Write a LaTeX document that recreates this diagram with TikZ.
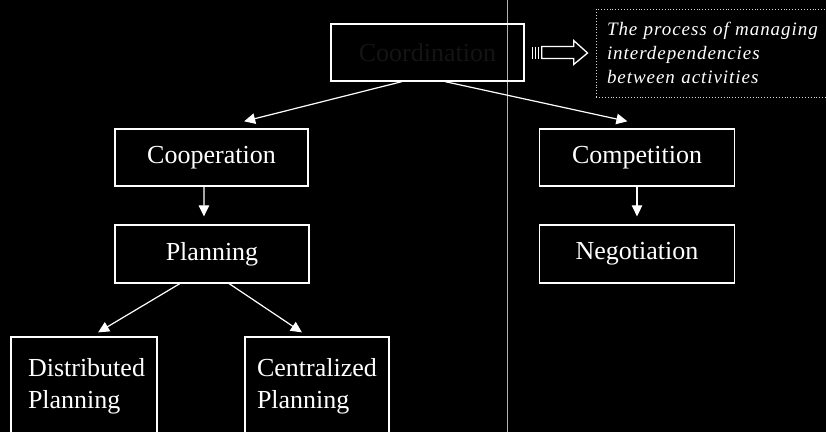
\documentclass[tikz,border=0pt]{standalone}
\usepackage{fontspec}
\setmainfont{Liberation Serif}
\usetikzlibrary{arrows.meta,calc}

\tikzset{
  box/.style={draw=white, line width=1.3pt, inner sep=0pt, text=white,
    font=\fontsize{26}{32}\selectfont},
  conn/.style={draw=white, line width=1.2pt, -{Triangle[width=10.5pt,length=11pt]}},
  note/.style={draw=white!85!black, dotted, line width=0.9pt, inner sep=0pt,
    text=white, align=left,
    font=\addfontfeatures{LetterSpace=5}\fontsize{19}{24}\selectfont\itshape},
}

\begin{document}
\begin{tikzpicture}[x=1pt,y=-1pt]
  % canvas
  \useasboundingbox (0,0) rectangle (826,432);
  \clip (0,0) rectangle (826,432);
  \fill[black] (0,0) rectangle (826,432);

  % thin vertical rule
  \draw[white!70!black, line width=0.8pt] (507,0) -- (507,432);

  % boxes
  \node[box, minimum width=193pt, minimum height=57pt, text=white!8!black]
    (top) at (427.5,52.5) {Coordination};
  \node[box, minimum width=193pt, minimum height=57pt] (coop) at (211.5,157.5) {Cooperation};
  \node[box, minimum width=195pt, minimum height=57pt] (comp) at (637,157.5) {Competition};
  \node[box, minimum width=194pt, minimum height=58pt] (plan) at (212,254) {Planning};
  \node[box, minimum width=195pt, minimum height=58pt] (nego) at (637,254) {Negotiation};
  \node[box, minimum width=146pt, minimum height=98pt, align=left, text width=112pt]
    (dist) at (84,386) {Distributed\\Planning};
  \node[box, minimum width=144pt, minimum height=98pt, align=left, text width=120pt]
    (cent) at (317,386) {Centralized\\Planning};

  % definition note
  \node[note, minimum width=230pt, minimum height=88pt, text width=208pt]
    (def) at (711,53) {The process of managing\\interdependencies\\between activities};

  % striped block arrow pointing at the note
  \coordinate (ba) at ($(top.east)+(7,0)$);
  \foreach \dx in {1,4,7}
    \draw[white, line width=0.9pt] ($(ba)+(\dx,-6)$) -- ($(ba)+(\dx,6)$);
  \draw[white, line width=1.3pt]
    ($(ba)+(10,-6)$) -- ($(ba)+(42,-6)$) -- ($(ba)+(42,-12)$) -- ($(def.west)+(-8,0)$)
    -- ($(ba)+(42,12)$) -- ($(ba)+(42,6)$) -- ($(ba)+(10,6)$) -- cycle;

  % connectors
  \draw[conn] ($(top.south west)!0.368!(top.south east)$)
    -- ($(coop.north west)!0.668!(coop.north east)+(0,-7)$);
  \draw[conn] ($(top.south west)!0.591!(top.south east)$)
    -- ($(comp.north west)!0.451!(comp.north east)+(0,-7)$);
  \draw[conn, shorten >=8pt] ($(coop.south west)!0.461!(coop.south east)$)
    -- ($(plan.north west)!0.459!(plan.north east)$);
  \draw[conn, shorten >=8pt] (comp.south) -- (nego.north);
  \draw[conn] ($(plan.south west)!0.335!(plan.south east)$)
    -- ($(dist.north west)!0.596!(dist.north east)+(0,-4)$);
  \draw[conn] ($(plan.south west)!0.588!(plan.south east)$)
    -- ($(cent.north west)!0.396!(cent.north east)+(0,-4)$);
\end{tikzpicture}
\end{document}
